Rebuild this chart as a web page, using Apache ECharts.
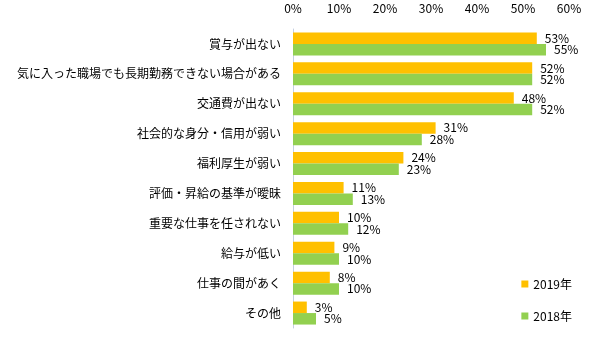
<!DOCTYPE html>
<html><head><meta charset="utf-8">
<script src="https://cdn.jsdelivr.net/npm/echarts@6/dist/echarts.min.js"></script>
<style>html,body{margin:0;padding:0;background:#fff}#c{width:600px;height:357px}</style>
</head><body><div id="c"></div>
<script>
const categories = ['賞与が出ない','気に入った職場でも長期勤務できない場合がある','交通費が出ない','社会的な身分・信用が弱い','福利厚生が弱い','評価・昇給の基準が曖昧','重要な仕事を任されない','給与が低い','仕事の間があく','その他'];
const values2019 = [53,52,48,31,24,11,10,9,8,3];
const values2018 = [55,52,52,28,23,13,12,10,10,5];
const xTicks = [0,10,20,30,40,50,60];
const font = '"Noto Sans CJK JP", sans-serif';
const chart = echarts.init(document.getElementById('c'));
const lbl = {show:true, position:'right', distance:8, formatter:p=>p.value+'%', color:'#000', fontSize:12, fontFamily:font};
chart.setOption({
  animation:false,
  textStyle:{fontFamily:font},
  grid:{left:293, right:31, top:29, bottom:29, containLabel:false},
  legend:{
    orient:'vertical', right:23, top:273, itemGap:20, itemWidth:7, itemHeight:7,
    icon:'rect', textStyle:{fontSize:12, color:'#000', fontFamily:font},
    data:['2019年','2018年']
  },
  xAxis:{
    type:'value', position:'top', min:xTicks[0], max:xTicks[xTicks.length-1], interval:10,
    axisLine:{show:false}, axisTick:{show:false}, splitLine:{show:false},
    axisLabel:{formatter:'{value}%', color:'#000', fontSize:12, fontFamily:font, margin:15}
  },
  yAxis:{
    type:'category', inverse:true, data:categories,
    axisLine:{show:true, lineStyle:{color:'#c5cfe0', width:1}}, axisTick:{show:false},
    axisLabel:{color:'#000', fontSize:12, fontFamily:font, margin:12}
  },
  series:[
    {name:'2019年', type:'bar', data:values2019, barWidth:11.5, barGap:'0%', itemStyle:{color:'#FFC000'}, label:lbl},
    {name:'2018年', type:'bar', data:values2018, barWidth:11.5, barGap:'0%', itemStyle:{color:'#92D050'}, label:lbl}
  ]
});
</script></body></html>
